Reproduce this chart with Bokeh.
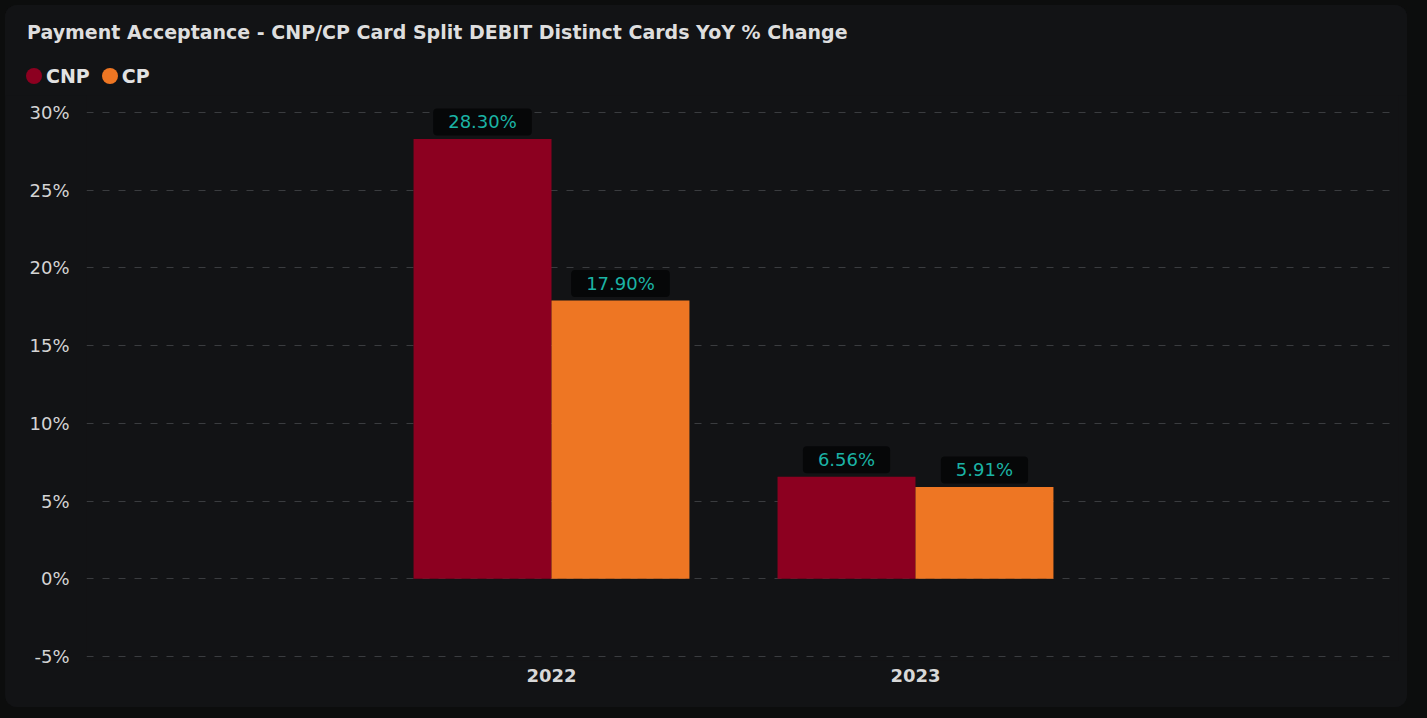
from bokeh.plotting import figure
from bokeh.layouts import column
from bokeh.models import (Range1d, FixedTicker, PrintfTickFormatter, Div,
                          ColumnDataSource, GlobalInlineStyleSheet)
from bokeh.transform import dodge
from bokeh.core.properties import value
from bokeh.embed import file_html
from bokeh.resources import INLINE

# ---- data ----
years = ["2022", "2023"]
series = ["CNP", "CP"]
cnp = [28.30, 6.56]
cp = [17.90, 5.91]
y_ticks = [-5, 0, 5, 10, 15, 20, 25, 30]
title_text = "Payment Acceptance - CNP/CP Card Split DEBIT Distinct Cards YoY % Change"

# ---- style ----
OUTER = "#0c0d0d"
PANEL = "#121315"
C_CNP = "#8c0020"
C_CP = "#ee7623"
TEAL = "#1bb3a5"
FONT = "DejaVu Sans"
W = 1402

# ---- header: title + legend ----
legend_html = "".join(
    f'<span style="display:inline-block;width:16px;height:16px;border-radius:50%;'
    f'background:{c};vertical-align:middle;margin-right:4px"></span>'
    f'<span style="vertical-align:middle;margin-right:12px">{s}</span>'
    for s, c in zip(series, (C_CNP, C_CP))
)
header_html = (
    f'<div style="padding:16px 0 0 22px;font:bold 19px \'{FONT}\';line-height:22px;'
    f'color:#dedede;white-space:nowrap">{title_text}</div>'
    f'<div style="padding:19px 0 0 21px;font:bold 19px \'{FONT}\';line-height:24px;'
    f'color:#e2e2e2;white-space:nowrap">{legend_html}</div>'
)
header = Div(text=header_html, width=W, height=90, margin=0,
             styles={"background-color": PANEL})

# ---- chart ----
xpos = list(range(len(years)))
src = ColumnDataSource(dict(
    x=xpos, cnp=cnp, cp=cp,
    cnp_lbl=[f"{v:.2f}%" for v in cnp],
    cp_lbl=[f"{v:.2f}%" for v in cp],
))

p = figure(width=W, height=612, output_backend="svg", toolbar_location=None,
           x_range=Range1d(-1.2775, 2.327), y_range=Range1d(-5.257, 31.094),
           min_border_left=81, min_border_right=9, min_border_top=0, min_border_bottom=47)
p.background_fill_color = PANEL
p.border_fill_color = PANEL
p.outline_line_color = None

bw = 0.379
p.vbar(x=dodge("x", -bw / 2, range=p.x_range), top="cnp", bottom=0, width=bw,
       source=src, fill_color=C_CNP, line_color=None)
p.vbar(x=dodge("x", bw / 2, range=p.x_range), top="cp", bottom=0, width=bw,
       source=src, fill_color=C_CP, line_color=None)

for col, lbl, off in (("cnp", "cnp_lbl", -bw / 2), ("cp", "cp_lbl", bw / 2)):
    p.text(x=dodge("x", off, range=p.x_range), y=col, text=lbl, source=src,
           text_font=value(FONT), text_font_size="18px", text_color=TEAL,
           text_align="center", text_baseline="middle", y_offset=-17,
           background_fill_color="#060708", padding=(15, 3), border_radius=4)

# axes
p.yaxis.ticker = FixedTicker(ticks=y_ticks)
p.yaxis.formatter = PrintfTickFormatter(format="%d%%")
p.xaxis.ticker = FixedTicker(ticks=xpos)
p.xaxis.major_label_overrides = {i: y for i, y in enumerate(years)}
for ax in (p.xaxis[0], p.yaxis[0]):
    ax.axis_line_color = None
    ax.major_tick_line_color = None
    ax.minor_tick_line_color = None
    ax.major_tick_out = 0
    ax.major_tick_in = 0
    ax.major_label_text_font = FONT
ax = p.yaxis[0]
ax.major_label_standoff = 17
ax.major_label_text_font_size = "18px"
ax.major_label_text_color = "#d4d4d4"
ax = p.xaxis[0]
ax.major_label_standoff = 8
ax.major_label_text_font_size = "18px"
ax.major_label_text_font_style = "bold"
ax.major_label_text_color = "#d8d8d8"

p.xgrid.visible = False
p.ygrid.grid_line_color = "#3a3c3f"
p.ygrid.grid_line_dash = "7 9"
p.ygrid.grid_line_width = 1

page = column(header, p, spacing=0, margin=(5, 0, 0, 5),
              styles={"border-radius": "12px", "overflow": "hidden",
                      "background-color": PANEL})
page.stylesheets = [GlobalInlineStyleSheet(css=f"html, body {{ background-color: {OUTER}; }}")]

open("out.html", "w").write(file_html(page, INLINE))
